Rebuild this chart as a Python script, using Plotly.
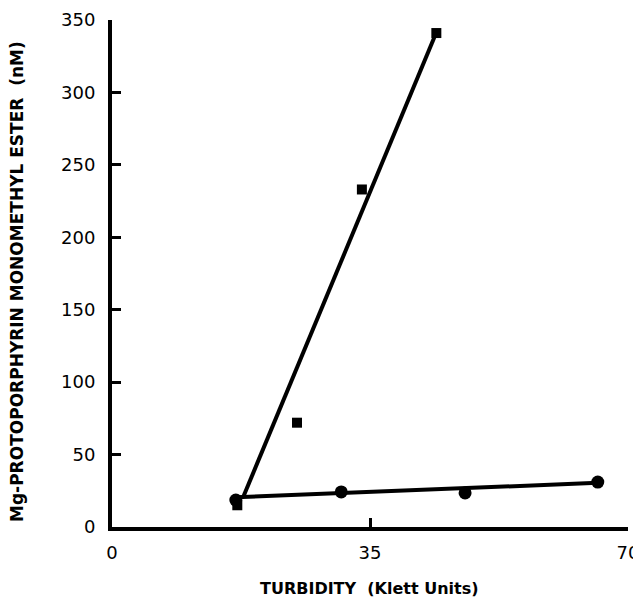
import plotly.graph_objects as go

# Data
sq_x = [17.0, 25.1, 33.9, 44.0]
sq_y = [15.0, 72.0, 233.0, 341.0]
circ_x = [16.8, 31.1, 47.9, 65.9]
circ_y = [18.6, 24.2, 23.5, 31.0]
sq_fit_x = [17.8, 43.8]
sq_fit_y = [20.7, 339.0]
circ_fit_x = [16.8, 65.9]
circ_fit_y = [20.5, 30.5]
x_ticks = [0, 35, 70]
y_ticks = [0, 50, 100, 150, 200, 250, 300, 350]

fig = go.Figure()
fig.add_trace(go.Scatter(x=sq_fit_x, y=sq_fit_y, mode="lines",
                         line=dict(color="black", width=4), showlegend=False))
fig.add_trace(go.Scatter(x=circ_fit_x, y=circ_fit_y, mode="lines",
                         line=dict(color="black", width=4), showlegend=False))
fig.add_trace(go.Scatter(x=sq_x, y=sq_y, mode="markers",
                         marker=dict(symbol="square", size=10, color="black"),
                         showlegend=False))
fig.add_trace(go.Scatter(x=circ_x, y=circ_y, mode="markers",
                         marker=dict(symbol="circle", size=13, color="black"),
                         showlegend=False))

tickfont = dict(family="DejaVu Sans", size=18, color="black")
fig.update_layout(
    width=633, height=593,
    margin=dict(l=104, r=13, t=12, b=74),
    plot_bgcolor="white", paper_bgcolor="white",
    xaxis=dict(range=[0, 70], tickvals=x_ticks, ticktext=[str(v) for v in x_ticks],
               showgrid=False, zeroline=False, showline=True, linecolor="black",
               linewidth=4, ticks="inside", ticklen=9, tickwidth=3, tickcolor="black",
               tickfont=tickfont, ticklabelstandoff=6, automargin=False),
    yaxis=dict(range=[0, 350], tickvals=y_ticks, ticktext=[str(v) for v in y_ticks],
               showgrid=False, zeroline=False, showline=True, linecolor="black",
               linewidth=4, ticks="inside", ticklen=9, tickwidth=3, tickcolor="black",
               tickfont=tickfont, ticklabelstandoff=9, automargin=False),
    annotations=[
        dict(text="TURBIDITY  (Klett Units)", xref="paper", yref="paper",
             x=(369 - 112) / (628 - 112), y=-(588 - 527) / (527 - 20),
             xanchor="center", yanchor="middle", showarrow=False,
             font=dict(family="DejaVu Sans", size=16, color="black", weight="bold")),
        dict(text="Mg-PROTOPORPHYRIN MONOMETHYL ESTER  (nM)", xref="paper", yref="paper",
             x=-(112 - 17) / (628 - 112), y=(527 - 282) / (527 - 20),
             xanchor="center", yanchor="middle", showarrow=False, textangle=-90,
             font=dict(family="DejaVu Sans", size=17, color="black", weight="bold")),
    ],
)

fig.write_html("out.html")
